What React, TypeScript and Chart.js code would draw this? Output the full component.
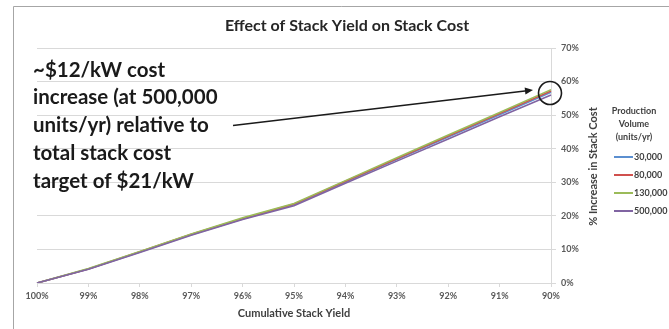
import React, { useEffect, useRef } from "react";
import { Chart, registerables } from "chart.js";

Chart.register(...registerables);

// Cumulative stack yield categories (x axis)
const yieldLabels = ["100%", "99%", "98%", "97%", "96%", "95%", "94%", "93%", "92%", "91%", "90%"];

// % increase in stack cost per production volume
const vol30k = [0, 4.2, 9.2, 14.4, 19.1, 23.3, 30.1, 36.8, 43.5, 50.1, 56.8];
const vol80k = [0, 4.2, 9.3, 14.5, 19.2, 23.5, 30.3, 37.0, 43.8, 50.5, 57.2];
const vol130k = [0, 4.3, 9.4, 14.6, 19.4, 23.7, 30.5, 37.3, 44.1, 50.8, 57.6];
const vol500k = [0, 4.1, 9.1, 14.2, 18.9, 23.0, 29.7, 36.3, 42.9, 49.5, 56.0];

const seriesNames = ["30,000", "80,000", "130,000", "500,000"];
const seriesValues = [vol30k, vol80k, vol130k, vol500k];
const seriesColors = ["#5B8FD0", "#D0504D", "#9BBB59", "#8064A2"];

const yMax = 70;
const yStep = 10;

const chartTitle = "Effect of Stack Yield on Stack Cost";
const xAxisTitle = "Cumulative Stack Yield";
const yAxisTitle = "% Increase in Stack Cost";
const legendTitle = ["Production", "Volume", "(units/yr)"];
const noteLines = [
  "~$12/kW cost",
  "increase (at 500,000",
  "units/yr) relative to",
  "total stack cost",
  "target of $21/kW",
];

const FONT = "Lato, 'Open Sans', sans-serif";

const decorPlugin = {
  id: "decor",
  beforeDraw(chart: any) {
    const ctx = chart.ctx;
    ctx.save();
    ctx.fillStyle = "#ffffff";
    ctx.fillRect(0, 0, chart.width, chart.height);
    // chart frame (top and left edges)
    ctx.strokeStyle = "#a6a6a6";
    ctx.lineWidth = 1;
    ctx.beginPath();
    ctx.moveTo(13.5, chart.height);
    ctx.lineTo(13.5, 6.5);
    ctx.lineTo(chart.width, 6.5);
    ctx.stroke();
    ctx.restore();
  },
  afterDraw(chart: any) {
    const ctx = chart.ctx;
    const area = chart.chartArea;
    const xs = chart.scales.x;
    const ys = chart.scales.y;
    ctx.save();

    // chart title
    ctx.fillStyle = "#262626";
    ctx.font = `bold 16px ${FONT}`;
    ctx.textAlign = "center";
    ctx.textBaseline = "middle";
    ctx.fillText(chartTitle, 347, 26);

    // x axis title
    ctx.font = `bold 11px ${FONT}`;
    ctx.fillStyle = "#404040";
    ctx.fillText(xAxisTitle, (area.left + area.right) / 2, 313);

    // y axis title, reading upward
    ctx.save();
    ctx.translate(593, (area.top + area.bottom) / 2 + 1);
    ctx.rotate(-Math.PI / 2);
    ctx.fillText(yAxisTitle, 0, 0);
    ctx.restore();

    // legend
    ctx.font = `bold 9px ${FONT}`;
    ctx.fillStyle = "#404040";
    legendTitle.forEach((t, i) => ctx.fillText(t, 634, 111 + i * 13));
    ctx.textAlign = "left";
    seriesNames.forEach((name, i) => {
      const y = 157 + i * 18;
      ctx.strokeStyle = seriesColors[i];
      ctx.lineWidth = 2;
      ctx.beginPath();
      ctx.moveTo(614, y);
      ctx.lineTo(633, y);
      ctx.stroke();
      ctx.fillStyle = "#404040";
      ctx.fillText(name, 634, y + 0.5);
    });

    // annotation text
    ctx.font = `bold 20.5px ${FONT}`;
    ctx.fillStyle = "#1a1a1a";
    ctx.textAlign = "left";
    noteLines.forEach((t, i) => ctx.fillText(t, 33, 70 + i * 27.8));

    // circle around the 90% yield end points
    const last = yieldLabels.length - 1;
    const endAvg =
      seriesValues.reduce((s, v) => s + v[last], 0) / seriesValues.length;
    const cx = xs.getPixelForValue(last) - 1;
    const cy = ys.getPixelForValue(endAvg) + 1;
    ctx.strokeStyle = "#1a1a1a";
    ctx.lineWidth = 1.6;
    ctx.beginPath();
    ctx.arc(cx, cy, 11.5, 0, Math.PI * 2);
    ctx.stroke();

    // arrow from the note to the circle
    const sx = 233;
    const sy = 125.5;
    const tx = cx - 17;
    const ty = cy - 3;
    const ang = Math.atan2(ty - sy, tx - sx);
    ctx.lineWidth = 1.5;
    ctx.beginPath();
    ctx.moveTo(sx, sy);
    ctx.lineTo(tx - 6 * Math.cos(ang), ty - 6 * Math.sin(ang));
    ctx.stroke();
    ctx.fillStyle = "#1a1a1a";
    ctx.beginPath();
    ctx.moveTo(tx, ty);
    ctx.lineTo(tx - 8 * Math.cos(ang) + 3.5 * Math.sin(ang), ty - 8 * Math.sin(ang) - 3.5 * Math.cos(ang));
    ctx.lineTo(tx - 8 * Math.cos(ang) - 3.5 * Math.sin(ang), ty - 8 * Math.sin(ang) + 3.5 * Math.cos(ang));
    ctx.closePath();
    ctx.fill();

    ctx.restore();
  },
};

export default function App() {
  const canvasRef = useRef<HTMLCanvasElement | null>(null);

  useEffect(() => {
    if (!canvasRef.current) return;
    const tickFont = { family: FONT, weight: "bold" as const, size: 9 };
    const chart = new Chart(canvasRef.current, {
      type: "line",
      data: {
        labels: yieldLabels,
        datasets: seriesNames.map((name, i) => ({
          label: name,
          data: seriesValues[i],
          borderColor: seriesColors[i],
          backgroundColor: seriesColors[i],
          borderWidth: 1.6,
          pointRadius: 0,
          tension: 0,
          fill: false,
          order: seriesNames.length - i,
        })),
      },
      options: {
        animation: false,
        responsive: false,
        devicePixelRatio: 1,
        layout: { padding: { left: 37, top: 48, right: 0, bottom: 0 } },
        plugins: {
          legend: { display: false },
          title: { display: false },
          tooltip: { enabled: false },
        },
        scales: {
          x: {
            type: "category",
            offset: false,
            grid: { drawOnChartArea: false, drawTicks: true, tickLength: 4, color: "#d9d9d9" },
            border: { display: true, color: "#d9d9d9" },
            ticks: { font: tickFont, color: "#595959", padding: 4, maxRotation: 0, autoSkip: false },
            afterFit: (s: any) => {
              s.height = 46;
            },
          },
          y: {
            position: "right",
            min: 0,
            max: yMax,
            grid: { color: "#d9d9d9", drawTicks: true, tickLength: 5 },
            border: { display: true, color: "#d9d9d9" },
            ticks: {
              stepSize: yStep,
              font: tickFont,
              color: "#595959",
              padding: 5,
              callback: (v: any) => `${v}%`,
            },
            afterFit: (s: any) => {
              s.width = 118;
            },
          },
        },
      },
      plugins: [decorPlugin],
    });
    return () => chart.destroy();
  }, []);

  return (
    <div style={{ position: "fixed", left: 0, top: 0, width: 669, height: 329, background: "#fff" }}>
      <canvas ref={canvasRef} width={669} height={329} style={{ width: 669, height: 329 }} />
    </div>
  );
}
